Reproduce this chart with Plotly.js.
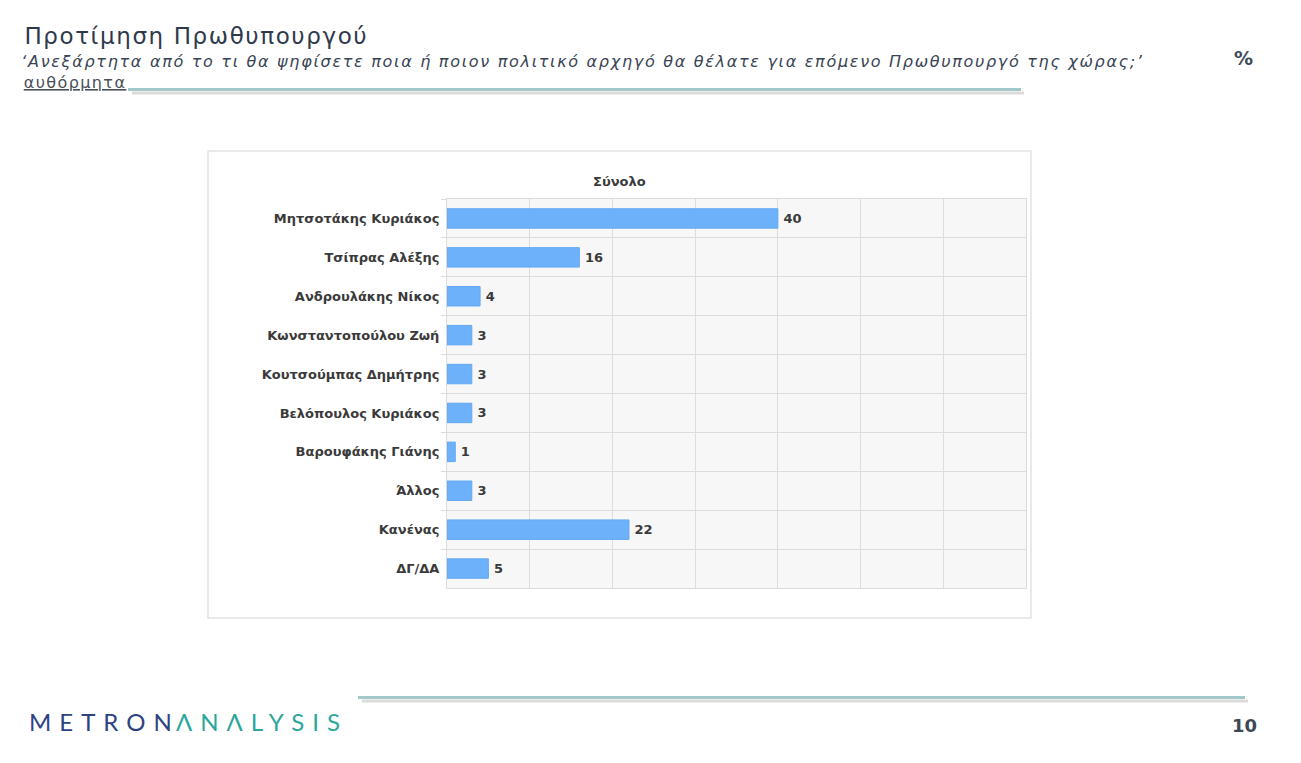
<!DOCTYPE html>
<html>
<head>
<meta charset="utf-8">
<script src="https://cdn.plot.ly/plotly-3.0.1.min.js"></script>
<style>
  html, body { margin: 0; padding: 0; background: #ffffff; }
  #chart { width: 1301px; height: 763px; }
  g.annotation[data-index="0"] text { letter-spacing: 1.6px; }
  g.annotation[data-index="2"] text { letter-spacing: 1.7px; }
  g.annotation[data-index="3"] text { letter-spacing: 1.4px; }
  g.annotation[data-index="6"] text { letter-spacing: 8px; }
  g.annotation[data-index="7"] text { letter-spacing: 8px; }
</style>
</head>
<body>
<div id="chart"></div>
<script>
// ---- data ----
const categories = [
  "Μητσοτάκης Κυριάκος",
  "Τσίπρας Αλέξης",
  "Ανδρουλάκης Νίκος",
  "Κωνσταντοπούλου Ζωή",
  "Κουτσούμπας Δημήτρης",
  "Βελόπουλος Κυριάκος",
  "Βαρουφάκης Γιάνης",
  "Άλλος",
  "Κανένας",
  "ΔΓ/ΔΑ"
];
const values = [40, 16, 4, 3, 3, 3, 1, 3, 22, 5];
const seriesName = "Σύνολο";
const pageTitle = "Προτίμηση Πρωθυπουργού";
const question = "‘Ανεξάρτητα από το τι θα ψηφίσετε ποια ή ποιον πολιτικό αρχηγό θα θέλατε για επόμενο Πρωθυπουργό της χώρας;’";
const note = "αυθόρμητα";
const unit = "%";
const pageNumber = "10";
const logoA = "METRON";
const logoB = "ΛNΛLYSIS";

// ---- layout helpers (pixel -> paper) ----
const L = 447, R = 1026, T = 199, B = 588;
const PW = R - L, PH = B - T;
const X = p => (p - L) / PW;
const Y = p => (B - p) / PH;

const textDark = "#3a3a3a";
const fam = "DejaVu Sans, Verdana, sans-serif";

const trace = {
  type: "bar",
  orientation: "h",
  y: categories,
  x: values,
  text: values.map(v => "\u2009" + v),
  textposition: "outside",
  cliponaxis: false,
  textfont: { family: fam, size: 13, color: textDark, weight: "bold" },
  marker: { color: "#6cb1fa", line: { color: "#62a8f3", width: 1 } },
  width: 0.5,
  hoverinfo: "x+y",
  showlegend: false
};

const layout = {
  width: 1301,
  height: 763,
  margin: { l: L, r: 1301 - R, t: T, b: 763 - B, pad: 0 },
  paper_bgcolor: "#ffffff",
  plot_bgcolor: "#f7f7f7",
  font: { family: fam, color: textDark },
  xaxis: {
    range: [0, 70],
    dtick: 10,
    tick0: 0,
    showgrid: true,
    gridcolor: "#dcdcdc",
    gridwidth: 1,
    zeroline: false,
    showticklabels: false,
    ticks: "",
    showline: true,
    mirror: true,
    linecolor: "#dcdcdc",
    fixedrange: true
  },
  yaxis: {
    type: "category",
    autorange: "reversed",
    tickson: "boundaries",
    ticks: "outside",
    ticklen: 5,
    tickcolor: "#dcdcdc",
    showgrid: true,
    gridcolor: "#dcdcdc",
    gridwidth: 1,
    showline: true,
    mirror: true,
    linecolor: "#dcdcdc",
    tickfont: { family: fam, size: 13, color: textDark, weight: "bold" },
    ticklabelstandoff: 4,
    fixedrange: true
  },
  shapes: [
    // chart frame
    { type: "rect", xref: "paper", yref: "paper", x0: X(208), x1: X(1031), y0: Y(618), y1: Y(151),
      line: { color: "#e2e2e2", width: 1.5 }, fillcolor: "rgba(0,0,0,0)", layer: "below" },
    // header rule shadow + rule
    { type: "line", xref: "paper", yref: "paper", x0: X(132), x1: X(1024), y0: Y(93), y1: Y(93),
      line: { color: "rgba(150,150,150,0.35)", width: 3 } },
    { type: "line", xref: "paper", yref: "paper", x0: X(128), x1: X(1021), y0: Y(89.5), y1: Y(89.5),
      line: { color: "#a3c8ca", width: 3 } },
    // footer rule shadow + rule
    { type: "line", xref: "paper", yref: "paper", x0: X(362), x1: X(1248), y0: Y(701), y1: Y(701),
      line: { color: "rgba(150,150,150,0.35)", width: 3 } },
    { type: "line", xref: "paper", yref: "paper", x0: X(358), x1: X(1245), y0: Y(697.5), y1: Y(697.5),
      line: { color: "#a3c8ca", width: 3 } }
  ],
  annotations: [
    { // 0 page title
      text: pageTitle, xref: "paper", yref: "paper", x: X(196), y: Y(36),
      xanchor: "center", yanchor: "middle", showarrow: false,
      font: { family: fam, size: 23, color: "#2e3a4c" }
    },
    { // 1 unit
      text: unit, xref: "paper", yref: "paper", x: X(1243), y: Y(58),
      xanchor: "center", yanchor: "middle", showarrow: false,
      font: { family: fam, size: 19, color: "#3c4858", weight: "bold" }
    },
    { // 2 question
      text: question, xref: "paper", yref: "paper", x: X(583), y: Y(62),
      xanchor: "center", yanchor: "middle", showarrow: false,
      font: { family: fam, size: 16, color: "#384354", style: "italic" }
    },
    { // 3 note
      text: note, xref: "paper", yref: "paper", x: X(75), y: Y(83),
      xanchor: "center", yanchor: "middle", showarrow: false,
      font: { family: fam, size: 16, color: "#4a4f58", lineposition: "under" }
    },
    { // 4 series title
      text: seriesName, xref: "paper", yref: "paper", x: X(619), y: Y(181),
      xanchor: "center", yanchor: "middle", showarrow: false,
      font: { family: fam, size: 13, color: textDark, weight: "bold" }
    },
    { // 5 page number
      text: pageNumber, xref: "paper", yref: "paper", x: X(1244), y: Y(725),
      xanchor: "center", yanchor: "middle", showarrow: false,
      font: { family: fam, size: 18, color: "#3c4858", weight: "bold" }
    },
    { // 6 logo part 1
      text: logoA, xref: "paper", yref: "paper", x: X(104), y: Y(721),
      xanchor: "center", yanchor: "middle", showarrow: false,
      font: { family: "Lato, " + fam, size: 24, color: "#2c437f" }
    },
    { // 7 logo part 2
      text: logoB, xref: "paper", yref: "paper", x: X(262), y: Y(721),
      xanchor: "center", yanchor: "middle", showarrow: false,
      font: { family: "Lato, " + fam, size: 24, color: "#2aa69c" }
    }
  ]
};

Plotly.newPlot("chart", [trace], layout, { displayModeBar: false, responsive: false });
</script>
</body>
</html>
